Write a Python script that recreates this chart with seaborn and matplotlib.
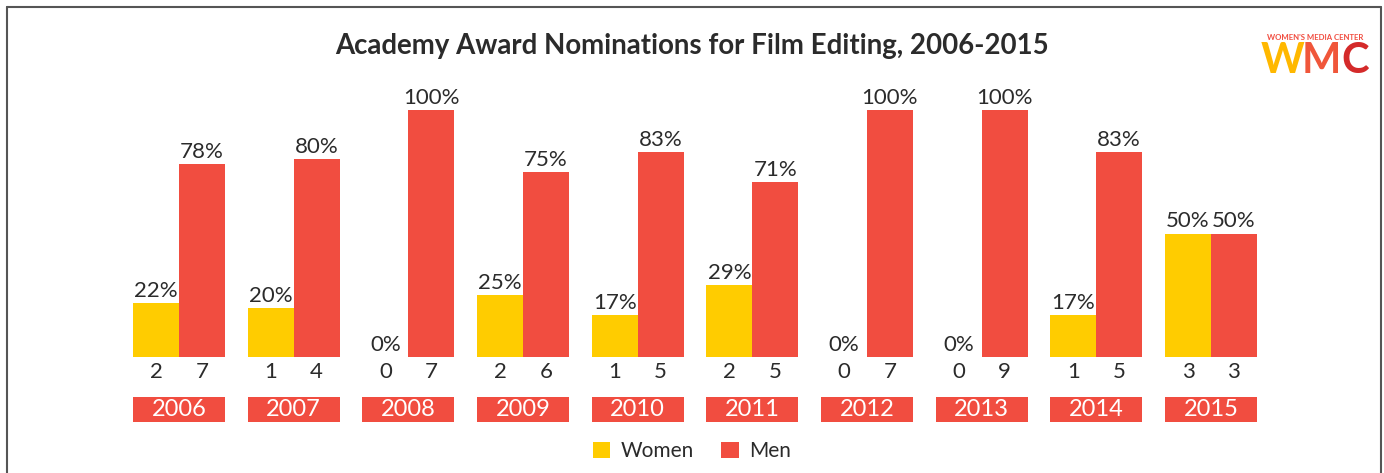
import matplotlib
matplotlib.use("Agg")
import matplotlib.pyplot as plt
from matplotlib.patches import Rectangle
from matplotlib.lines import Line2D
import seaborn as sns
import pandas as pd

years = ["2006", "2007", "2008", "2009", "2010", "2011", "2012", "2013", "2014", "2015"]
women_pct = [22, 20, 0, 25, 17, 29, 0, 0, 17, 50]
men_pct = [78, 80, 100, 75, 83, 71, 100, 100, 83, 50]
women_n = [2, 1, 0, 2, 1, 2, 0, 0, 1, 3]
men_n = [7, 4, 7, 6, 5, 5, 7, 9, 5, 3]

YELLOW = "#FFCC00"
RED = "#F14D40"
TEXT = "#2b2b2b"

df = pd.DataFrame({
    "year": years * 2,
    "gender": ["Women"] * len(years) + ["Men"] * len(years),
    "pct": women_pct + men_pct,
    "n": women_n + men_n,
})

sns.set_style("white")
plt.rcParams["font.family"] = ["Lato", "DejaVu Sans"]

fig = plt.figure(figsize=(13.84, 4.73), dpi=100)
ax = fig.add_axes([0.0879, 0.2452, 0.8285, 0.5222])

sns.barplot(data=df, x="year", y="pct", hue="gender", hue_order=["Women", "Men"],
            palette={"Women": YELLOW, "Men": RED}, width=0.8, ax=ax,
            saturation=1, errorbar=None, legend=True, linewidth=0)

ax.set_xlim(-0.5, len(years) - 0.5)
ax.set_ylim(0, 100)
ax.set_xlabel("")
ax.set_ylabel("")
ax.set_xticks([])
ax.set_yticks([])
sns.despine(ax=ax, left=True, bottom=True)

# bar labels: percent above, counts below
for cont, vals in zip(ax.containers, [(women_pct, women_n), (men_pct, men_n)]):
    pcts, ns = vals
    for bar, p, n in zip(cont, pcts, ns):
        xc = bar.get_x() + bar.get_width() / 2
        ax.annotate(f"{p}%", (xc, bar.get_height()), xytext=(0, 1.5),
                    textcoords="offset points", ha="center", va="bottom",
                    fontsize=16, color=TEXT, annotation_clip=False)
        ax.annotate(f"{n}", (xc, 0), xytext=(0, -11), textcoords="offset points",
                    ha="center", va="center", fontsize=16, color=TEXT,
                    annotation_clip=False)

# year boxes
for i, y in enumerate(years):
    ax.add_patch(Rectangle((i - 0.4, -26.3), 0.8, 10.1, color=RED, clip_on=False, lw=0))
    ax.text(i, -21.4, y, ha="center", va="center", color="white", fontsize=17,
            clip_on=False)

fig.text(0.5, 0.902, "Academy Award Nominations for Film Editing, 2006-2015",
         ha="center", va="center", fontsize=19.9, fontweight="bold", color=TEXT)

# legend
handles, labels = ax.get_legend_handles_labels()
ax.legend(handles, labels, loc="center", bbox_to_anchor=(0.5, 0.046),
          bbox_transform=fig.transFigure, ncol=2, frameon=False, fontsize=15,
          handlelength=0.85, handleheight=0.85, columnspacing=1.3, handletextpad=0.5,
          labelcolor=TEXT)

# logo
fig.text(0.9505, 0.921, "WOMEN'S MEDIA CENTER", ha="center", va="center",
         fontsize=5.6, fontweight="bold", color=RED)
fig.text(0.9265, 0.872, "W", ha="center", va="center", fontsize=30,
         fontweight="bold", color="#FFB800")
fig.text(0.9545, 0.872, "M", ha="center", va="center", fontsize=30,
         fontweight="bold", color="#F0563A")
fig.text(0.9795, 0.872, "C", ha="center", va="center", fontsize=30,
         fontweight="bold", color="#D42A2A")

# border
bc = "#555555"
fig.add_artist(Line2D([7 / 1384, 7 / 1384], [0, 1 - 7 / 473], transform=fig.transFigure, color=bc, lw=1.5))
fig.add_artist(Line2D([1381 / 1384, 1381 / 1384], [0, 1 - 7 / 473], transform=fig.transFigure, color=bc, lw=1.5))
fig.add_artist(Line2D([7 / 1384, 1381 / 1384], [1 - 7 / 473, 1 - 7 / 473], transform=fig.transFigure, color=bc, lw=1.5))

fig.savefig("out.png", dpi=100)
